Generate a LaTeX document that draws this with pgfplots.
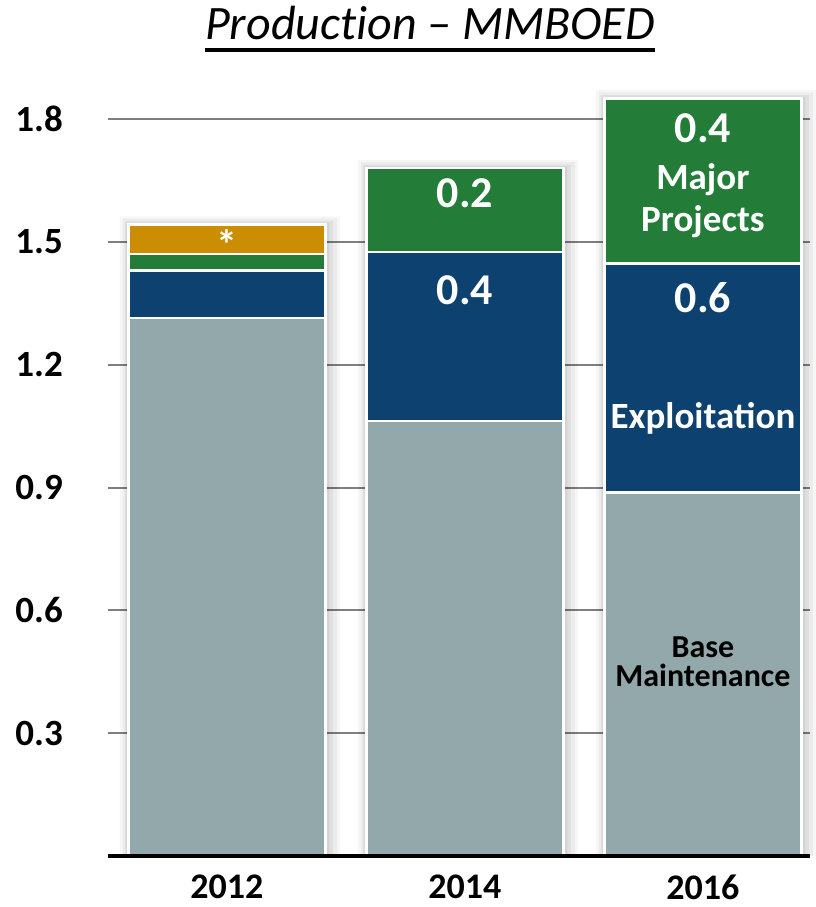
\documentclass[border=0pt]{standalone}
\usepackage{pgfplots}
\pgfplotsset{compat=1.18}
\usepackage{pgfplotstable}
\usepackage{fontspec}
\setmainfont{Carlito}
\definecolor{cBase}{HTML}{92A8AA}
\definecolor{cExpl}{HTML}{0D4170}
\definecolor{cMajor}{HTML}{237C37}
\definecolor{cOther}{HTML}{CB8E03}
\definecolor{cGrid}{HTML}{7F7F7F}
\pgfplotstableread{
x base expl major
0 1.315 0.115 0.041
1 1.063 0.413 0.205
2 0.888 0.560 0.403
}\data
\pgfplotstableread{
x total
0 1.543
1 1.681
2 1.851
}\totals
\begin{document}
\begin{tikzpicture}
\pgfplotsset{common/.style={
  scale only axis, width=702pt, height=761.3pt,
  xmin=-0.5, xmax=2.45, ymin=0, ymax=1.86,
  at={(0,0)}, anchor=south west,
  xtick={0,1,2}, ytick={0.3,0.6,0.9,1.2,1.5,1.8},
  major tick length=0pt,
  /pgf/number format/assume math mode=true,
  clip=false,
}}
% background: grid and soft shadows
\begin{axis}[common,
  axis line style={draw=none},
  ymajorgrids, grid style={cGrid, line width=2pt},
  xticklabels={},
  yticklabel style={font=\fontsize{37}{37}\selectfont\bfseries, inner sep=0pt, anchor=east, xshift=-45pt},
  yticklabels={0.3,0.6,0.9,1.2,1.5,1.8},
]
\addplot[ybar, bar shift=3pt, bar width=220pt, fill=black, fill opacity=0.035, draw=none] table[x=x, y expr=\thisrow{total}+0.02] {\totals};
\addplot[ybar, bar shift=3pt, bar width=214pt, fill=black, fill opacity=0.04, draw=none] table[x=x, y expr=\thisrow{total}+0.014] {\totals};
\addplot[ybar, bar shift=2pt, bar width=208pt, fill=black, fill opacity=0.05, draw=none] table[x=x, y expr=\thisrow{total}+0.008] {\totals};
\addplot[ybar, bar shift=1pt, bar width=203pt, fill=black, fill opacity=0.06, draw=none] table[x=x, y expr=\thisrow{total}+0.004] {\totals};
\end{axis}
% foreground: stacked bars
\begin{axis}[common,
  ybar stacked, bar width=197pt,
  axis line style={draw=none},
  yticklabels={},
  xticklabels={2012,2014,2016},
  xticklabel style={font=\fontsize{36}{36}\selectfont\bfseries, inner sep=0pt, anchor=north, yshift=-19pt},
]
\addplot[fill=cBase, draw=white, line width=2.5pt] table[x=x, y=base] {\data};
\addplot[fill=cExpl, draw=white, line width=2.5pt] table[x=x, y=expl] {\data};
\addplot[fill=cMajor, draw=white, line width=2.5pt] table[x=x, y=major] {\data};
\addplot[fill=cOther, draw=white, line width=2.5pt] coordinates {(0,0.072)};
\coordinate (star) at (axis cs:0,1.494);
\coordinate (a) at (axis cs:1,1.620);
\coordinate (b) at (axis cs:1,1.383);
\coordinate (c) at (axis cs:2,1.779);
\coordinate (d) at (axis cs:2,1.600);
\coordinate (e) at (axis cs:2,1.363);
\coordinate (f) at (axis cs:2,1.070);
\coordinate (g) at (axis cs:2,0.474);
\end{axis}
\draw[line width=3.5pt, black] (0,0) -- (702pt,0);
\node[text=white, font=\fontsize{42}{42}\selectfont\bfseries] at (star) {*};
\node[text=white, font=\fontsize{44}{44}\selectfont\bfseries] at (a) {0.2};
\node[text=white, font=\fontsize{44}{44}\selectfont\bfseries] at (b) {0.4};
\node[text=white, font=\fontsize{44}{44}\selectfont\bfseries] at (c) {0.4};
\node[text=white, align=center, font=\fontsize{37}{42}\selectfont\bfseries] at (d) {Major\\Projects};
\node[text=white, font=\fontsize{44}{44}\selectfont\bfseries] at (e) {0.6};
\node[text=white, font=\fontsize{37}{37}\selectfont\bfseries] at (f) {Exploitation};
\node[text=black, align=center, font=\fontsize{32}{29}\selectfont\bfseries] at (g) {Base\\Maintenance};
\node[anchor=base, inner sep=0pt, font=\fontsize{48}{48}\selectfont\itshape] (t) at (322pt,816pt) {Product\kern0pt ion – MMBOED};
\draw[line width=3.5pt] ([yshift=-10pt]t.base west) -- ([yshift=-10pt]t.base east);
\path[use as bounding box] (-108pt,-51pt) rectangle (702pt,856pt);
\end{tikzpicture}
\end{document}
